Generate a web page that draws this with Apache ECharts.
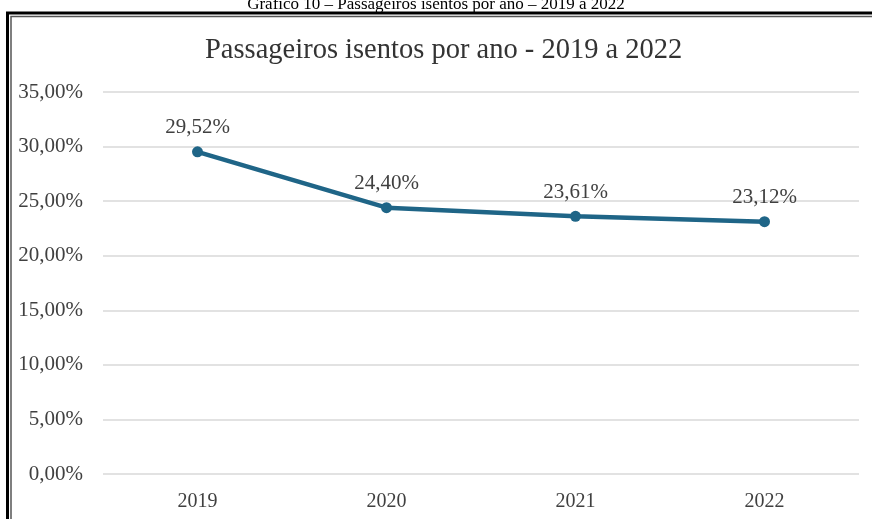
<!DOCTYPE html>
<html>
<head>
<meta charset="utf-8">
<script src="https://cdn.jsdelivr.net/npm/echarts@6/dist/echarts.min.js"></script>
<style>
  html, body { margin: 0; padding: 0; background: #fff; }
  #main { width: 872px; height: 519px; }
</style>
</head>
<body>
<div id="main"></div>
<script>
// dados do gráfico
var anos = ['2019', '2020', '2021', '2022'];
var isentos = [29.52, 24.40, 23.61, 23.12];
var legenda = 'Gráfico 10 – Passageiros isentos por ano – 2019 a 2022';
var titulo = 'Passageiros isentos por ano - 2019 a 2022';

var fonte = '"Liberation Serif", "Times New Roman", serif';

function pct(v){
    return Number(v).toFixed(2).replace('.', ',') + '%';
}

var chartDom = document.getElementById('main');
var myChart = echarts.init(chartDom);
var option = {
    animation: false,
    backgroundColor: '#fff',
    title: [{
        text: titulo,
        left: 200,
        top: 31,
        textStyle: { fontFamily: fonte, fontSize: 28.5, fontWeight: 'normal', color: '#333333' }
    }],
    graphic: [
        // legenda externa (cortada no topo)
        { type: 'text', x: 436, y: 13,
          style: { text: legenda, fontFamily: fonte, fontSize: 17, fill: '#000',
                   align: 'center', verticalAlign: 'bottom' } },
        // moldura dupla
        { type: 'polyline', shape: { points: [[7.5, 530], [7.5, 13], [880, 13]] },
          style: { stroke: '#000', lineWidth: 3, fill: null } },
        { type: 'polyline', shape: { points: [[11, 530], [11, 16.5], [880, 16.5]] },
          style: { stroke: '#555', lineWidth: 1.5, fill: null } }
    ],
    grid: { left: 103, right: 13, top: 92, bottom: 45 },
    xAxis: {
        type: 'category',
        data: anos,
        boundaryGap: true,
        axisLine: { show: false },
        axisTick: { show: false },
        axisLabel: { margin: 18, fontFamily: fonte, fontSize: 20, color: '#404040' }
    },
    yAxis: {
        type: 'value',
        min: 0,
        max: 35,
        interval: 5,
        axisLine: { show: false },
        axisTick: { show: false },
        splitLine: { lineStyle: { color: '#d9d9d9', width: 1.5 } },
        axisLabel: {
            margin: 20,
            fontFamily: fonte, fontSize: 21, color: '#404040',
            formatter: pct
        }
    },
    series: [{
        name: 'Isentos',
        type: 'line',
        data: isentos,
        symbol: 'circle',
        symbolSize: 11,
        lineStyle: { color: '#1f6587', width: 4.5 },
        itemStyle: { color: '#1f6587' },
        label: {
            show: true,
            position: 'top',
            distance: 8,
            fontFamily: fonte, fontSize: 21, color: '#404040',
            formatter: function(p){ return pct(p.value); }
        }
    }]
};

option && myChart.setOption(option);
</script>
</body>
</html>
